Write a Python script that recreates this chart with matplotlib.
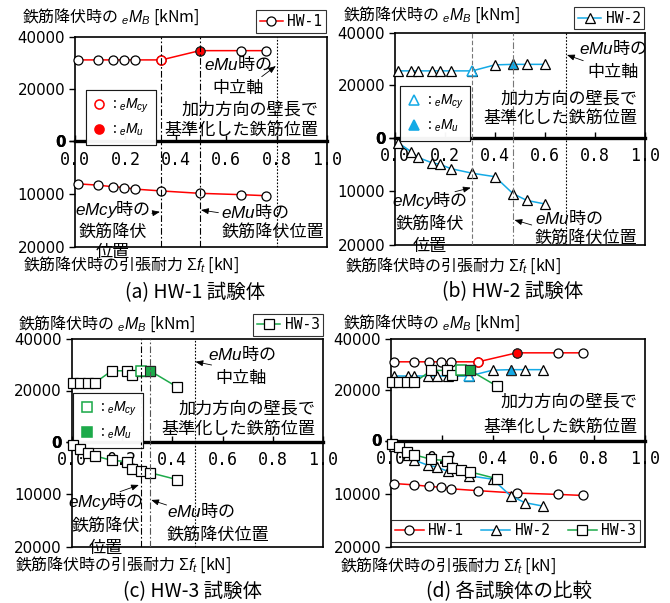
import matplotlib
matplotlib.use("Agg")
import matplotlib.pyplot as plt
from matplotlib.lines import Line2D

plt.rcParams["font.family"] = ["Noto Sans CJK JP", "DejaVu Sans"]
plt.rcParams["mathtext.fontset"] = "custom"
plt.rcParams["mathtext.it"] = "Liberation Sans:italic"
plt.rcParams["mathtext.rm"] = "Liberation Sans"
plt.rcParams["mathtext.bf"] = "Liberation Sans:bold"
plt.rcParams["mathtext.sf"] = "Liberation Sans"

# ---------------------------------------------------------------- data
# normalised rebar position (wall length in loading direction)
pos_hw1 = [0.01, 0.09, 0.15, 0.195, 0.237, 0.343, 0.495, 0.657, 0.757]
pos_hw2 = [0.013, 0.065, 0.092, 0.147, 0.18, 0.224, 0.309, 0.40, 0.472, 0.527, 0.60]
pos_hw3 = [0.005, 0.033, 0.063, 0.092, 0.159, 0.221, 0.239, 0.275, 0.311, 0.417]

# moment at rebar yielding eMB [kNm]
moment_hw1 = [31100, 31100, 31100, 31100, 31100, 31100, 34650, 34650, 34650]
moment_hw2 = [25500, 25500, 25500, 25500, 25500, 25500, 25500, 27800, 28000, 28000, 28000]
moment_hw3 = [23000, 23000, 23000, 23000, 27700, 27700, 25900, 27700, 27700, 21500]

# tensile resistance at rebar yielding  Σft [kN]
force_hw1 = [8100, 8350, 8650, 8800, 9100, 9450, 9900, 10150, 10350]
force_hw2 = [1000, 2640, 3700, 4690, 5000, 5800, 6650, 7290, 10450, 11700, 12370]
force_hw3 = [600, 1300, 2150, 2700, 3550, 3800, 5150, 5550, 5900, 7200]

# index of the eMcy point and of the eMu point in each series
cy_hw1, u_hw1 = 5, 6
cy_hw2, u_hw2 = 6, 8
cy_hw3, u_hw3 = 7, 8

# neutral axis position at eMu
neutral_hw1 = 0.80
neutral_hw2 = 0.683
neutral_hw3 = 0.49

specimen_names = ["HW-1", "HW-2", "HW-3"]
captions = ["(a) HW-1 試験体", "(b) HW-2 試験体", "(c) HW-3 試験体", "(d) 各試験体の比較"]

x_ticks = [0.0, 0.2, 0.4, 0.6, 0.8, 1.0]
x_tick_labels = ["0.0", "0.2", "0.4", "0.6", "0.8", "1.0"]
moment_ticks = [0, 20000, 40000]
moment_tick_labels = ["0", "20000", "40000"]
force_ticks = [0, 10000, 20000]
force_tick_labels = ["0", "10000", "20000"]

# ---------------------------------------------------------------- style
RED = "#FF0000"
BLUE = "#14AAE6"
GREEN = "#1DAA4A"
W, H = 670, 603

fig = plt.figure(figsize=(W / 100, H / 100), dpi=100)

YLABEL = "鉄筋降伏時の ${}_{e}M_{B}$ [kNm]"
XLABEL = "鉄筋降伏時の引張耐力 $\\Sigma f_t$ [kN]"
MU = "$eMu$時の"
MCY_STACK = "$eMcy$時の\n鉄筋降伏\n位置"


def add_pair(left, top, mid, bottom, right):
    ax_t = fig.add_axes([left / W, 1 - mid / H, (right - left) / W, (mid - top) / H])
    ax_b = fig.add_axes([left / W, 1 - bottom / H, (right - left) / W, (bottom - mid) / H])
    for ax in (ax_t, ax_b):
        ax.set_xlim(0, 1)
        for sp in ax.spines.values():
            sp.set_linewidth(1.2)
            sp.set_color("black")
    ax_t.set_ylim(0, 40000)
    ax_t.set_yticks(moment_ticks, moment_tick_labels)
    ax_t.set_xticks(x_ticks, x_tick_labels)
    ax_t.tick_params(axis="x", direction="in", length=4, width=1, pad=7, labelsize=12)
    ax_t.tick_params(axis="y", direction="out", length=4, width=1, pad=3, labelsize=10.8)
    for lbl in ax_t.get_xticklabels():
        lbl.set_fontfamily("DejaVu Sans Mono")
    for lbl in ax_t.get_yticklabels():
        lbl.set_fontfamily("DejaVu Sans")
    ax_t.get_yticklabels()[0].set_fontweight("bold")
    ax_t.spines["bottom"].set_linewidth(2.4)

    ax_b.set_ylim(20000, 0)
    ax_b.set_yticks(force_ticks, force_tick_labels)
    ax_b.set_xticks([])
    ax_b.tick_params(axis="y", direction="out", length=4, width=1, pad=3, labelsize=10.8)
    for lbl in ax_b.get_yticklabels():
        lbl.set_fontfamily("DejaVu Sans")
    ax_b.get_yticklabels()[0].set_fontweight("bold")
    ax_b.spines["top"].set_visible(False)
    ax_b.patch.set_alpha(0)
    return ax_t, ax_b


def draw_series(ax_t, ax_b, pos, mom, force, color, marker, ms, cy, u):
    kw = dict(color=color, lw=1.1, marker=marker, ms=ms, mfc="white",
              mec="black", mew=0.9, clip_on=False, zorder=3)
    ax_t.plot(pos, mom, **kw)
    ax_t.plot(pos[cy], mom[cy], ls="none", marker=marker, ms=ms, mfc="white",
              mec=color, mew=1.1, clip_on=False, zorder=3)
    ax_t.plot(pos[u], mom[u], ls="none", marker=marker, ms=ms, mfc=color,
              mec="#222222", mew=0.8, clip_on=False, zorder=3)
    ax_b.plot(pos, force, **kw)


def vlines(ax_t, ax_b, xs, colors, styles):
    for x, c, s in zip(xs, colors, styles):
        for ax in (ax_t, ax_b):
            ax.axvline(x, color=c, ls=s, lw=0.8, zorder=4)


def note(ax, x, y, s, ha="center", size=12.3, spacing=1.2):
    ax.text(x, y, s, transform=ax.transAxes, ha=ha, va="center",
            multialignment=ha, fontsize=size, linespacing=spacing, zorder=6)


def arrow(ax, tail, head):
    ax.annotate("", xy=head, xytext=tail, xycoords="axes fraction",
                textcoords="axes fraction",
                arrowprops=dict(arrowstyle="-|>,head_length=0.45,head_width=0.18",
                                color="black", lw=0.6, shrinkA=0, shrinkB=0),
                zorder=6)


def series_legend(ax, color, marker, ms, name, anchor):
    h = Line2D([], [], color=color, lw=1.1, marker=marker, ms=ms,
               mfc="white", mec="black", mew=0.9)
    leg = ax.legend([h], [name], loc="lower right", bbox_to_anchor=anchor,
                    borderaxespad=0, frameon=True, fancybox=False,
                    handlelength=1.6, handletextpad=0.3, borderpad=0.25,
                    prop={"family": "DejaVu Sans Mono", "size": 10.5})
    leg.get_frame().set_edgecolor("black")
    leg.get_frame().set_linewidth(0.8)
    ax.add_artist(leg)


def marker_legend(ax, color, marker, ms, anchor):
    h1 = Line2D([], [], ls="none", marker=marker, ms=ms, mfc="white", mec=color, mew=1.1)
    h2 = Line2D([], [], ls="none", marker=marker, ms=ms, mfc=color, mec=color, mew=1.1)
    leg = ax.legend([h1, h2], [" : ${}_{e}M_{cy}$", " : ${}_{e}M_{u}$"],
                    loc="upper left", bbox_to_anchor=anchor, borderaxespad=0,
                    frameon=True, fancybox=False, handlelength=1.0,
                    handletextpad=0.2, borderpad=0.5, labelspacing=0.45,
                    fontsize=10)
    leg.get_frame().set_edgecolor("black")
    leg.get_frame().set_linewidth(0.8)
    ax.add_artist(leg)


def fig_text(x, y, s, ha="left", size=11.5):
    fig.text(x / W, 1 - y / H, s, ha=ha, va="center", fontsize=size)


def wall_note(ax, x, y1, y2):
    note(ax, x, y1, "加力方向の壁長で", ha="right")
    note(ax, x, y2, "基準化した鉄筋位置", ha="right")


# ---------------------------------------------------------------- (a) HW-1
at, ab = add_pair(75, 36.7, 141, 246.7, 327)
draw_series(at, ab, pos_hw1, moment_hw1, force_hw1, RED, "o", 6.5, cy_hw1, u_hw1)
vlines(at, ab, [pos_hw1[cy_hw1], pos_hw1[u_hw1], neutral_hw1],
       ["black", "black", "black"],
       [(0, (6, 2, 1.5, 2)), (0, (6, 2, 1.5, 2)), (0, (1.5, 1.5))])
series_legend(at, RED, "o", 6.5, specimen_names[0], (0.996, 1.038))
marker_legend(at, RED, "o", 6.5, (0.042, 0.489))
note(at, 0.646, 0.73, MU)
note(at, 0.648, 0.51, "中立軸")
arrow(at, (0.741, 0.617), (0.797, 0.719))
wall_note(at, 0.965, 0.297, 0.105)
note(ab, 0.151, 0.158, MCY_STACK, spacing=1.15)
arrow(ab, (0.305, 0.316), (0.337, 0.33))
note(ab, 0.58, 0.322, MU, ha="left")
note(ab, 0.58, 0.142, "鉄筋降伏位置", ha="left")
arrow(ab, (0.569, 0.322), (0.50, 0.347))
fig_text(21.7, 17, YLABEL)
fig_text(23, 265, XLABEL)
fig_text(195, 293, captions[0], ha="center", size=14)

# ---------------------------------------------------------------- (b) HW-2
at, ab = add_pair(395, 33, 137.5, 245, 645)
draw_series(at, ab, pos_hw2, moment_hw2, force_hw2, BLUE, "^", 7.5, cy_hw2, u_hw2)
vlines(at, ab, [pos_hw2[cy_hw2], pos_hw2[u_hw2], neutral_hw2],
       ["#777777", "#777777", "black"],
       [(0, (4, 2)), (0, (6, 2, 1.5, 2)), (0, (1.5, 1.5))])
series_legend(at, BLUE, "^", 7.5, specimen_names[1], (0.997, 1.035))
marker_legend(at, BLUE, "^", 7.5, (0.02, 0.493))
note(at, 0.873, 0.854, MU)
note(at, 0.873, 0.63, "中立軸")
arrow(at, (0.753, 0.735), (0.688, 0.79))
wall_note(at, 0.97, 0.375, 0.184)
note(ab, 0.14, 0.209, MCY_STACK, spacing=1.28)
arrow(ab, (0.24, 0.496), (0.303, 0.533))
note(ab, 0.56, 0.248, MU, ha="left")
note(ab, 0.56, 0.062, "鉄筋降伏位置", ha="left")
arrow(ab, (0.547, 0.186), (0.478, 0.233))
fig_text(343, 15, YLABEL)
fig_text(345, 266, XLABEL)
fig_text(512.5, 291.7, captions[1], ha="center", size=14)

# ---------------------------------------------------------------- (c) HW-3
at, ab = add_pair(71.7, 339.3, 441.7, 546.7, 323.3)
draw_series(at, ab, pos_hw3, moment_hw3, force_hw3, GREEN, "s", 6.8, cy_hw3, u_hw3)
vlines(at, ab, [pos_hw3[cy_hw3], pos_hw3[u_hw3], neutral_hw3],
       ["black", "#555555", "black"],
       [(0, (6, 2, 1.5, 2)), (0, (6, 2, 1.5, 2)), (0, (1.5, 1.5))])
series_legend(at, GREEN, "s", 6.8, specimen_names[2], (1.0, 1.032))
marker_legend(at, GREEN, "s", 6.8, (0.005, 0.476))
note(at, 0.675, 0.847, MU)
note(at, 0.675, 0.619, "中立軸")
arrow(at, (0.556, 0.749), (0.492, 0.781))
wall_note(at, 0.97, 0.326, 0.131)
note(ab, 0.136, 0.217, MCY_STACK, spacing=1.3)
arrow(ab, (0.192, 0.524), (0.267, 0.588))
note(ab, 0.377, 0.333, MU, ha="left")
note(ab, 0.377, 0.111, "鉄筋降伏位置", ha="left")
arrow(ab, (0.377, 0.397), (0.316, 0.445))
fig_text(18, 324, YLABEL)
fig_text(15, 565, XLABEL)
fig_text(193, 591.7, captions[2], ha="center", size=14)

# ---------------------------------------------------------------- (d) all
at, ab = add_pair(391, 339.3, 440.5, 546.7, 645)
draw_series(at, ab, pos_hw1, moment_hw1, force_hw1, RED, "o", 6.5, cy_hw1, u_hw1)
draw_series(at, ab, pos_hw2, moment_hw2, force_hw2, BLUE, "^", 7.5, cy_hw2, u_hw2)
draw_series(at, ab, pos_hw3, moment_hw3, force_hw3, GREEN, "s", 6.8, cy_hw3, u_hw3)
wall_note(at, 0.972, 0.382, 0.136)
handles = [Line2D([], [], color=c, lw=1.1, marker=m, ms=s, mfc="white",
                  mec="black", mew=0.9)
           for c, m, s in zip([RED, BLUE, GREEN], ["o", "^", "s"], [6.5, 7.5, 6.8])]
leg = ab.legend(handles, specimen_names, loc="lower left", ncol=3,
                bbox_to_anchor=(0.0, 0.045, 0.98, 0.18), mode="expand",
                borderaxespad=0, frameon=True, fancybox=False,
                handlelength=2.0, handletextpad=0.3, borderpad=0.25,
                prop={"family": "DejaVu Sans Mono", "size": 10.5})
leg.get_frame().set_edgecolor("black")
leg.get_frame().set_linewidth(0.8)
fig_text(343, 322.7, YLABEL)
fig_text(340, 566, XLABEL)
fig_text(509, 591.7, captions[3], ha="center", size=14)

fig.savefig("out.png", dpi=100, facecolor="white")
